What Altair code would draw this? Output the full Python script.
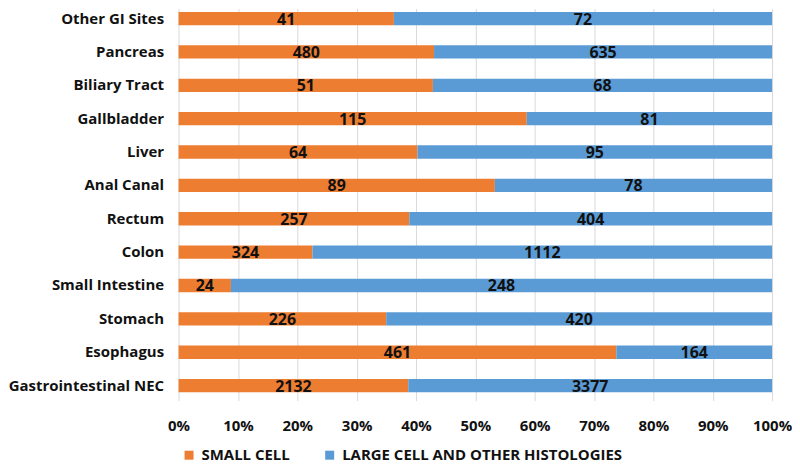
import altair as alt
import pandas as pd

sites = ["Other GI Sites", "Pancreas", "Biliary Tract", "Gallbladder", "Liver",
         "Anal Canal", "Rectum", "Colon", "Small Intestine", "Stomach",
         "Esophagus", "Gastrointestinal NEC"]
small_cell = [41, 480, 51, 115, 64, 89, 257, 324, 24, 226, 461, 2132]
large_cell = [72, 635, 68, 81, 95, 78, 404, 1112, 248, 420, 164, 3377]
series = ["SMALL CELL", "LARGE CELL AND OTHER HISTOLOGIES"]
colors = ["#ED7D31", "#5B9BD5"]

rows = []
for s, a, b in zip(sites, small_cell, large_cell):
    rows.append({"site": s, "type": series[0], "order": 0, "value": a})
    rows.append({"site": s, "type": series[1], "order": 1, "value": b})
df = pd.DataFrame(rows)

FONT = "Open Sans"

base = alt.Chart(df).transform_stack(
    stack="value", groupby=["site"], as_=["x0", "x1"], offset="normalize",
    sort=[alt.SortField("order", order="ascending")]
).transform_calculate(mid="(datum.x0 + datum.x1) / 2")

y = alt.Y("site:N", sort=sites, title=None,
          scale=alt.Scale(paddingInner=0.6, paddingOuter=0.1),
          axis=alt.Axis(labelFont=FONT, labelFontSize=15, labelFontWeight="bold",
                        labelColor="#111111", ticks=False, domain=False,
                        labelPadding=15, labelLimit=300))

bars = base.mark_bar().encode(
    x=alt.X("x0:Q", title=None, scale=alt.Scale(domain=[0, 1]),
            axis=alt.Axis(format="%", values=[i / 10 for i in range(11)],
                          labelFont=FONT, labelFontSize=15, labelFontWeight="bold",
                          labelColor="#111111", grid=True, gridColor="#d9d9d9",
                          domain=False, tickColor="#d9d9d9", tickSize=5,
                          labelPadding=18, labelFlush=False)),
    x2="x1:Q",
    y=y,
    color=alt.Color("type:N", scale=alt.Scale(domain=series, range=colors),
                    legend=alt.Legend(title=None, orient="none", direction="horizontal",
                                      legendX=3, legendY=440, symbolType="square",
                                      symbolSize=81, labelFont=FONT, labelFontSize=15,
                                      labelFontWeight="bold", labelColor="#111111",
                                      labelLimit=500, labelOffset=5, columnPadding=32,
                                      symbolStrokeWidth=0)),
    order=alt.Order("order:Q"),
)

labels = base.mark_text(font=FONT, fontSize=16, fontWeight="bold", color="#111111",
                        baseline="middle", dy=1).encode(
    x="mid:Q",
    y=alt.Y("site:N", sort=sites),
    text="value:Q",
)

chart = (bars + labels).properties(width=595, height=388, padding=0).configure_view(stroke=None)
chart.save("out.html", embed_options={"renderer": "svg", "actions": False})
